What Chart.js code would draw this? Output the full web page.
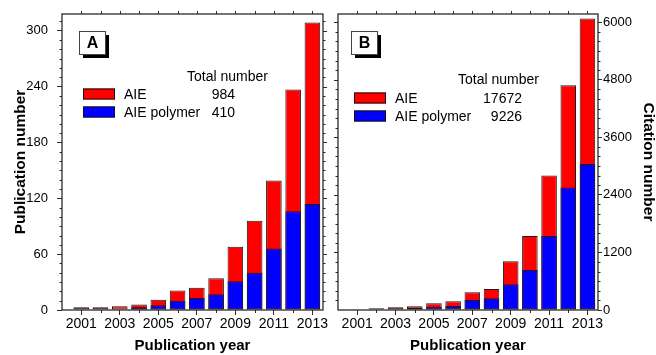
<!DOCTYPE html>
<html>
<head>
<meta charset="utf-8">
<script src="https://cdn.jsdelivr.net/npm/chart.js@4.4.1/dist/chart.umd.min.js"></script>
<style>
  body { margin: 0; background: #fff; }
  #wrap { position: relative; width: 656px; height: 355px; }
  canvas { position: absolute; top: 0; }
  #chartA { left: 0; }
  #chartB { left: 330px; }
</style>
</head>
<body>
<div id="wrap">
  <canvas id="chartA" width="330" height="355"></canvas>
  <canvas id="chartB" width="326" height="355"></canvas>
</div>
<script>
// data
const years = [2001, 2002, 2003, 2004, 2005, 2006, 2007, 2008, 2009, 2010, 2011, 2012, 2013];
const labeledYears = [2001, 2003, 2005, 2007, 2009, 2011, 2013];
const aiePubs = [3, 3, 4, 6, 11, 21, 24, 34, 68, 96, 139, 237, 309];
const polymerPubs = [0, 0, 0, 3, 5, 10, 13, 17, 31, 40, 66, 106, 114];
const aieCites = [15, 35, 56, 77, 139, 180, 368, 437, 1014, 1542, 2806, 4687, 6077];
const polymerCites = [0, 0, 15, 45, 70, 83, 208, 243, 535, 833, 1542, 2556, 3042];
const pubTicks = [0, 60, 120, 180, 240, 300];
const citeTicks = [0, 1200, 2400, 3600, 4800, 6000];
const seriesNames = ["AIE", "AIE polymer"];
const pubTotals = [984, 410];
const citeTotals = [17672, 9226];

Chart.defaults.font.family = "'Liberation Sans', Arial, sans-serif";
Chart.defaults.color = "#000";

const FRAME = "#2b2b2b";

// frame, mirror/minor ticks, panel letter and the text legend
const panelDecor = {
    id: "panelDecor",
    afterDraw(chart, args, o) {
        const { ctx, chartArea: a } = chart;
        const x = chart.scales.x;
        const y = chart.scales.y;
        ctx.save();
        ctx.strokeStyle = FRAME;
        ctx.lineWidth = 1.3;
        ctx.strokeRect(a.left, a.top, a.right - a.left, a.bottom - a.top);

        ctx.lineWidth = 1;
        ctx.beginPath();
        const axisX = o.side === "left" ? a.left : a.right;
        const mirrorX = o.side === "left" ? a.right : a.left;
        const dirAxis = o.side === "left" ? -1 : 1;
        for (let v = o.minorStep; v < y.max; v += o.minorStep) {
            const py = Math.round(y.getPixelForValue(v)) + 0.5;
            const major = v % o.majorStep === 0;
            if (!major) {
                ctx.moveTo(axisX, py);
                ctx.lineTo(axisX + dirAxis * 2.5, py);
            }
            ctx.moveTo(mirrorX, py);
            ctx.lineTo(mirrorX - dirAxis * (major ? 4 : 2.5), py);
        }
        years.forEach((yr) => {
            const px = Math.round(x.getPixelForValue(yr)) + 0.5;
            ctx.moveTo(px, a.top);
            ctx.lineTo(px, a.top - 3);
            if (!labeledYears.includes(yr)) {
                ctx.moveTo(px, a.bottom);
                ctx.lineTo(px, a.bottom + 3);
            }
        });
        ctx.stroke();

        // panel letter with drop shadow
        const b = o.letterBox;
        ctx.fillStyle = "#000";
        ctx.fillRect(b.x + 4, b.y + 4, b.w, b.h);
        ctx.fillStyle = "#fff";
        ctx.fillRect(b.x, b.y, b.w, b.h);
        ctx.strokeStyle = "#444";
        ctx.strokeRect(b.x + 0.5, b.y + 0.5, b.w, b.h);
        ctx.fillStyle = "#000";
        ctx.font = "bold 16px 'Liberation Sans', Arial";
        ctx.textAlign = "center";
        ctx.textBaseline = "middle";
        ctx.fillText(o.letter, b.x + b.w / 2 + 0.5, b.y + b.h / 2 + 1);

        // legend
        const L = o.legend;
        ctx.font = "14px 'Liberation Sans', Arial";
        ctx.textAlign = "left";
        ctx.fillText("Total number", L.headX, L.headY);
        chart.data.datasets
            .slice()
            .sort((p, q) => q.order - p.order)
            .forEach((ds, i) => {
                const sy = L.rowY[i];
                ctx.fillStyle = ds.backgroundColor;
                ctx.fillRect(L.swX, sy - 5.5, 32, 11);
                ctx.strokeStyle = "#111";
                ctx.strokeRect(L.swX + 0.5, sy - 5.5 + 0.5, 31, 10);
                ctx.fillStyle = "#000";
                ctx.textAlign = "left";
                ctx.fillText(seriesNames[i], L.swX + 41, sy + 1);
                ctx.textAlign = "right";
                ctx.fillText(String(o.totals[i]), L.numRight, sy + 1);
            });
        ctx.restore();
    },
};

function makePanel(canvasId, aie, poly, cfg) {
    const barStyle = {
        borderColor: "#1a1a1a",
        borderWidth: 1,
        borderSkipped: false,
        grouped: false,
        barPercentage: 0.9,
        categoryPercentage: 0.9,
    };
    return new Chart(document.getElementById(canvasId), {
        type: "bar",
        data: {
            datasets: [
                {
                    label: seriesNames[0],
                    data: aie.map((v, i) => ({ x: years[i], y: v })),
                    backgroundColor: "#ff0000",
                    order: 2,
                    ...barStyle,
                },
                {
                    label: seriesNames[1],
                    data: poly.map((v, i) => ({ x: years[i], y: v })),
                    backgroundColor: "#0000ff",
                    order: 1,
                    ...barStyle,
                },
            ],
        },
        options: {
            responsive: false,
            animation: false,
            layout: { padding: cfg.padding },
            plugins: {
                legend: { display: false },
                tooltip: { enabled: false },
                panelDecor: cfg.decor,
            },
            scales: {
                x: {
                    type: "linear",
                    min: 2000,
                    max: 2013.55,
                    offset: false,
                    afterBuildTicks: (s) => {
                        s.ticks = labeledYears.map((v) => ({ value: v }));
                    },
                    ticks: {
                        callback: (v) => String(v),
                        font: { size: 14 },
                        color: "#000",
                        padding: 1,
                        maxRotation: 0,
                        autoSkip: false,
                    },
                    grid: {
                        offset: false,
                        drawOnChartArea: false,
                        tickLength: 5,
                        tickColor: FRAME,
                    },
                    border: { display: false },
                    title: {
                        display: true,
                        text: cfg.xTitle,
                        font: { size: 15, weight: "bold" },
                        color: "#000",
                        padding: 0,
                    },
                    afterFit: (s) => {
                        s.height = 45;
                        s.paddingLeft = s.paddingRight = 0;
                    },
                },
                y: {
                    position: cfg.side,
                    min: 0,
                    max: cfg.yMax,
                    afterBuildTicks: (s) => {
                        s.ticks = cfg.yTicks.map((v) => ({ value: v }));
                    },
                    ticks: {
                        callback: (v) => String(v),
                        font: { size: 13 },
                        color: "#000",
                        padding: cfg.tickPad,
                    },
                    grid: {
                        drawOnChartArea: false,
                        tickLength: cfg.tickLen,
                        tickColor: FRAME,
                    },
                    border: { display: false },
                    title: {
                        display: true,
                        text: cfg.yTitle,
                        font: { size: 15.5, weight: "bold", lineHeight: 1 },
                        color: "#000",
                        padding: cfg.titlePad,
                    },
                    afterFit: (s) => {
                        s.width = cfg.yWidth;
                        s.paddingTop = s.paddingBottom = 0;
                    },
                },
            },
        },
        plugins: [panelDecor],
    });
}

makePanel("chartA", aiePubs, polymerPubs, {
    side: "left",
    padding: { top: 14, right: 7, left: 0, bottom: 0 },
    yMax: 318,
    yTicks: pubTicks,
    yWidth: 62,
    tickLen: 5,
    tickPad: 9,
    titlePad: { top: 13 },
    xTitle: "Publication year",
    yTitle: "Publication number",
    decor: {
        side: "left",
        minorStep: 10,
        majorStep: 60,
        letter: "A",
        letterBox: { x: 79, y: 31, w: 26, h: 23 },
        totals: pubTotals,
        legend: { swX: 83, rowY: [94, 112], headX: 187, headY: 77, numRight: 235 },
    },
});

makePanel("chartB", aieCites, polymerCites, {
    side: "right",
    padding: { top: 14, right: 0, left: 8, bottom: 0 },
    yMax: 6170,
    yTicks: citeTicks,
    yWidth: 58,
    tickLen: 4,
    tickPad: 1,
    titlePad: { top: 0 },
    xTitle: "Publication year",
    yTitle: "Citation number",
    decor: {
        side: "right",
        minorStep: 200,
        majorStep: 1200,
        letter: "B",
        letterBox: { x: 21, y: 31, w: 26, h: 23 },
        totals: citeTotals,
        legend: { swX: 24, rowY: [98, 116], headX: 128, headY: 80, numRight: 192 },
    },
});
</script>
</body>
</html>
